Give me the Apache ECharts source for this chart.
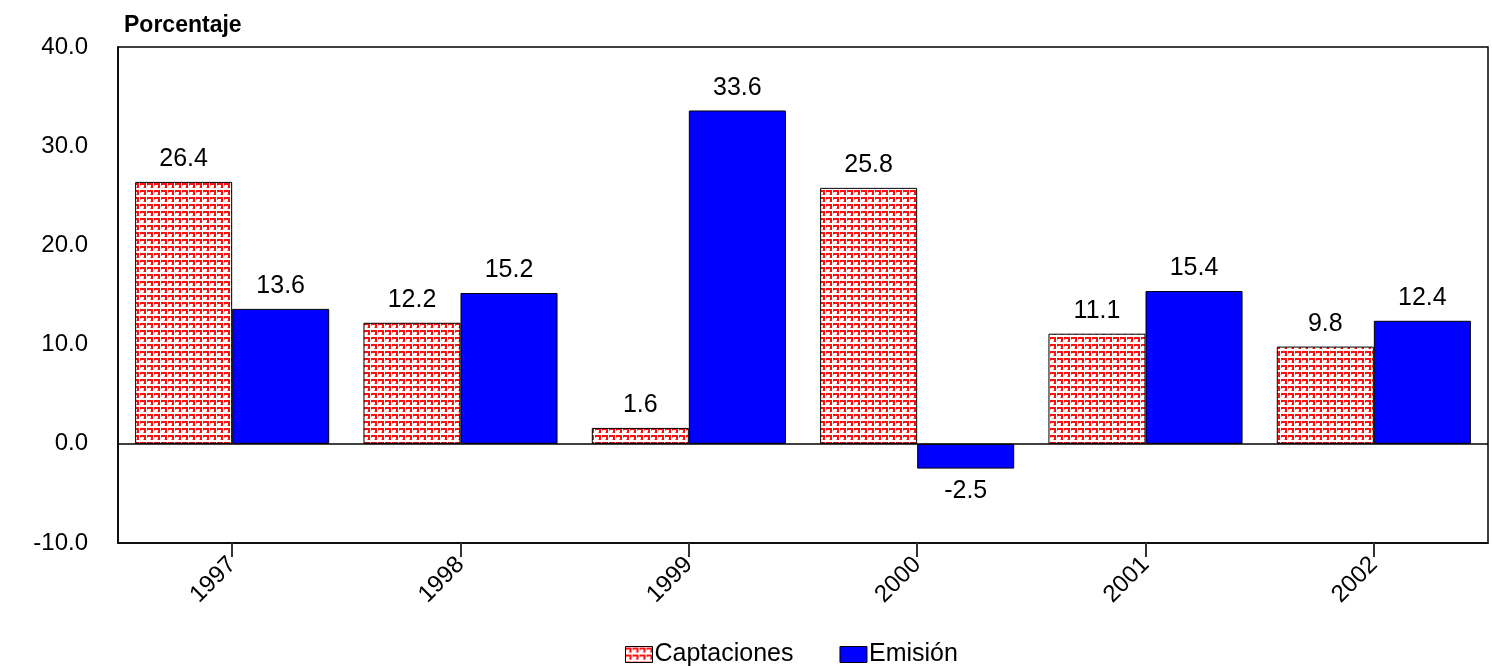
<!DOCTYPE html>
<html>
<head>
<meta charset="utf-8">
<script src="https://cdn.jsdelivr.net/npm/echarts@6/dist/echarts.min.js"></script>
<style>
  html, body { margin: 0; padding: 0; background: #fff; }
  #chart { width: 1492px; height: 666px; }
</style>
</head>
<body>
<div id="chart"></div>
<script>
const years = ['1997', '1998', '1999', '2000', '2001', '2002'];
const captaciones = [26.4, 12.2, 1.6, 25.8, 11.1, 9.8];
const emision = [13.6, 15.2, 33.6, -2.5, 15.4, 12.4];
const yTicks = [-10, 0, 10, 20, 30, 40];

const FONT = "'Liberation Sans', Arial, sans-serif";

// small red hatch tile used as the fill of the Captaciones bars
function hatchPattern() {
  const c = document.createElement('canvas');
  c.width = 7; c.height = 7;
  const g = c.getContext('2d');
  g.fillStyle = '#ffffff';
  g.fillRect(0, 0, 7, 7);
  g.fillStyle = '#ff1010';
  g.fillRect(0, 1, 6, 2);
  g.fillRect(4, 1, 2, 5);
  g.fillStyle = '#ff8c8c';
  g.fillRect(0, 3, 1, 1);
  g.fillRect(3, 5, 1, 1);
  return { image: c, repeat: 'repeat' };
}

function withLabels(values) {
  return values.map(v => ({
    value: v,
    label: { position: v < 0 ? 'bottom' : 'top' }
  }));
}

const labelStyle = {
  show: true,
  color: '#000',
  fontFamily: FONT,
  fontSize: 25,
  distance: 10,
  formatter: p => p.value.toFixed(1)
};

const chart = echarts.init(document.getElementById('chart'), null, { renderer: 'canvas' });
chart.setOption({
  animation: false,
  backgroundColor: '#fff',
  title: {
    text: 'Porcentaje',
    left: 119,
    top: 9,
    textStyle: { fontFamily: FONT, fontSize: 23, fontWeight: 'bold', color: '#000' }
  },
  grid: {
    left: 118, right: 4, top: 47, bottom: 123,
    show: true, borderColor: '#000', borderWidth: 1.5
  },
  legend: {
    left: 620, top: 637,
    icon: 'rect',
    itemWidth: 27, itemHeight: 16, itemGap: 46,
    textStyle: { fontFamily: FONT, fontSize: 25, color: '#000', padding: [0, 0, 0, -3] },
    itemStyle: { borderColor: '#000', borderWidth: 1 },
    data: ['Captaciones', 'Emisión']
  },
  xAxis: {
    type: 'category',
    data: years,
    axisLine: { onZero: false, lineStyle: { color: '#000', width: 1.5 } },
    axisTick: { show: true, alignWithLabel: true, length: 14, lineStyle: { color: '#333', width: 2 } },
    axisLabel: {
      rotate: 45, margin: 18, color: '#000',
      fontFamily: FONT, fontSize: 24
    }
  },
  yAxis: {
    type: 'value',
    min: yTicks[0], max: yTicks[yTicks.length - 1], interval: 10,
    splitLine: { show: false },
    axisLine: { show: true, lineStyle: { color: '#000', width: 1.5 } },
    axisTick: { show: false },
    axisLabel: {
      margin: 30, color: '#000', fontFamily: FONT, fontSize: 24,
      formatter: v => v.toFixed(1)
    }
  },
  series: [
    {
      name: 'Captaciones',
      type: 'bar',
      data: withLabels(captaciones),
      barCategoryGap: '15%',
      barGap: '0%',
      itemStyle: { color: hatchPattern(), borderColor: '#000', borderWidth: 1 },
      label: labelStyle,
      markLine: {
        silent: true, symbol: 'none',
        label: { show: false },
        lineStyle: { color: '#000', width: 1.5, type: 'solid' },
        data: [{ yAxis: 0 }]
      }
    },
    {
      name: 'Emisión',
      type: 'bar',
      data: withLabels(emision),
      itemStyle: { color: '#0000ff', borderColor: '#000', borderWidth: 1 },
      label: labelStyle
    }
  ]
});
</script>
</body>
</html>
